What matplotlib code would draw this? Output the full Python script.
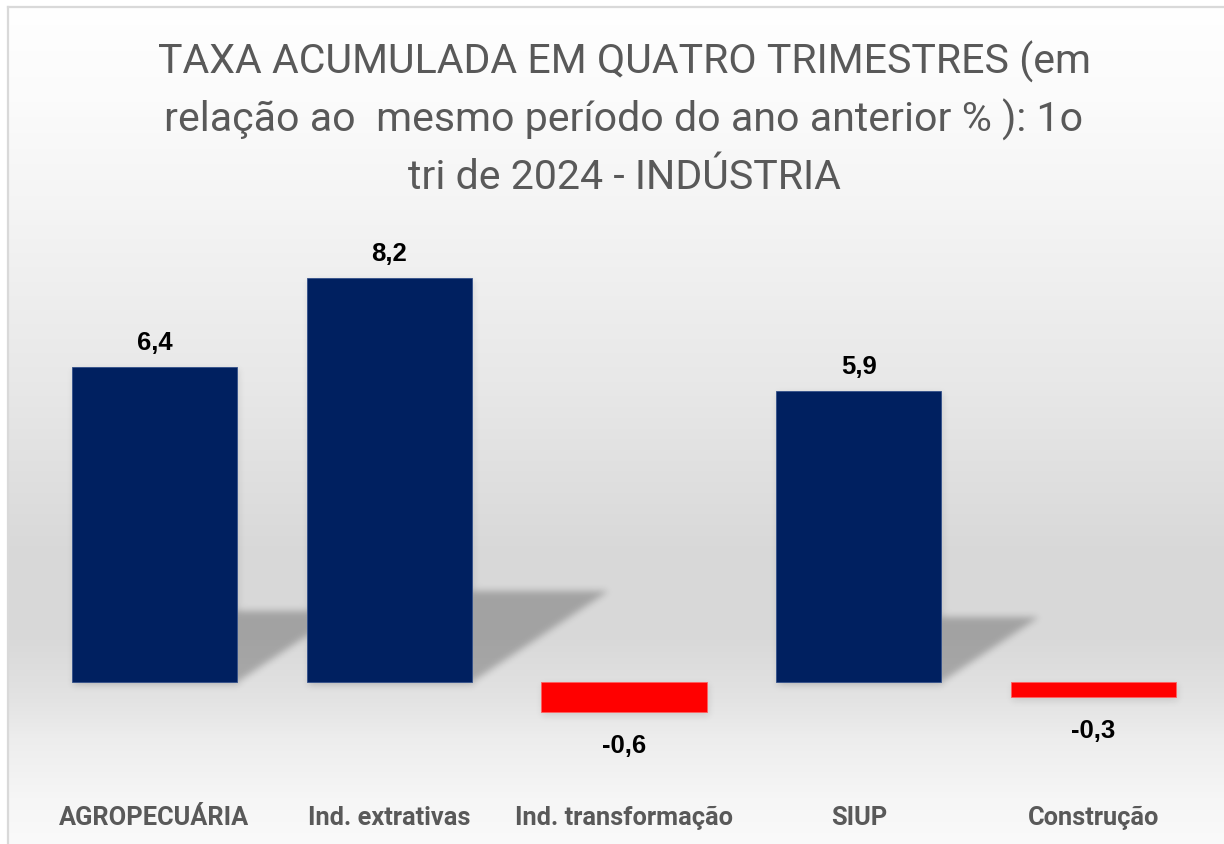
import numpy as np
import matplotlib
matplotlib.use("Agg")
import matplotlib.pyplot as plt
from matplotlib.path import Path
from matplotlib.lines import Line2D


CATEGORIES = ["AGROPECUÁRIA", "Ind. extrativas", "Ind. transformação", "SIUP", "Construção"]
VALUES = [6.4, 8.2, -0.6, 5.9, -0.3]
VALUE_LABELS = ["6,4", "8,2", "-0,6", "5,9", "-0,3"]
TITLE_LINES = [
    "TAXA ACUMULADA EM QUATRO TRIMESTRES (em",
    "relação ao  mesmo período do ano anterior % ): 1o",
    "tri de 2024 - INDÚSTRIA",
]

NAVY = "#002060"
RED = "#FF0000"
GRAY_TEXT = "#595959"
BORDER = "#d9d9d9"

W, H = 1224, 845
DPI = 100


def blur(a: np.ndarray, sigma: float) -> np.ndarray:
    r = int(3 * sigma)
    k = np.exp(-0.5 * (np.arange(-r, r + 1) / sigma) ** 2)
    k /= k.sum()
    a = np.apply_along_axis(lambda m: np.convolve(m, k, mode="same"), 0, a)
    a = np.apply_along_axis(lambda m: np.convolve(m, k, mode="same"), 1, a)
    return a


def draw_background(fig) -> None:
    # vertical grey gradient inside the chart frame
    bg = fig.add_axes([8 / W, 0, 1 - 8 / W, 1 - 8 / H], zorder=-10)
    rows = np.arange(8, H) + 0.5
    stop_px = [0, 100, 200, 400, 550, 640, 700, 740, 800, 845]
    stop_val = [1.0, 0.985, 0.96, 0.905, 0.85, 0.85, 0.89, 0.93, 0.965, 0.98]
    shade = np.interp(rows, stop_px, stop_val)
    img = np.repeat(shade[:, None, None], 3, axis=2)
    bg.imshow(img, aspect="auto", extent=(0, 1, 0, 1), interpolation="bilinear")
    bg.axis("off")

    fig.add_artist(Line2D([8 / W, 8 / W], [0, 1 - 8 / H], color=BORDER, lw=1.6))
    fig.add_artist(Line2D([8 / W, 1], [1 - 8 / H, 1 - 8 / H], color=BORDER, lw=1.6))


def draw_shadows(ax, bars) -> None:
    bbox = ax.get_window_extent()
    wpx, hpx = int(round(bbox.width)), int(round(bbox.height))
    gx, gy = np.meshgrid(np.arange(wpx) + 0.5 + bbox.x0,
                         np.arange(hpx)[::-1] + 0.5 + bbox.y0)
    pts = np.column_stack([gx.ravel(), gy.ravel()])
    alpha = np.zeros(wpx * hpx)

    for bar, value in zip(bars, VALUES):
        (bx0, by0), (bx1, by1) = ax.transData.transform(
            [[bar.get_x(), 0], [bar.get_x() + bar.get_width(), value]])
        if value > 0:
            hh = (by1 - by0) * 0.225
            dx = hh * 1.5
            poly = Path([(bx0, by0), (bx1, by0), (bx1 + dx, by0 + hh),
                         (bx0 + dx, by0 + hh), (bx0, by0)])
            alpha = np.maximum(alpha, poly.contains_points(pts) * 0.25)
        lo, hi = min(by0, by1), max(by0, by1)
        drop = Path([(bx0 + 1, lo - 4), (bx1 + 2, lo - 4), (bx1 + 2, hi - 2),
                     (bx0 + 1, hi - 2), (bx0 + 1, lo - 4)])
        alpha = np.maximum(alpha, drop.contains_points(pts) * 0.10)

    alpha = blur(alpha.reshape(hpx, wpx), 3.5)
    rgba = np.zeros((hpx, wpx, 4))
    rgba[..., 3] = alpha
    ax.imshow(rgba, extent=(*ax.get_xlim(), *ax.get_ylim()), aspect="auto",
              zorder=1, interpolation="bilinear")


def main() -> None:
    fig = plt.figure(figsize=(W / DPI, H / DPI), dpi=DPI, facecolor="white")
    draw_background(fig)

    ax = fig.add_axes([37 / W, (H - 770) / H, (1211 - 37) / W, (770 - 240) / H])
    ax.patch.set_visible(False)
    x = np.arange(len(CATEGORIES))
    ax.set_xlim(-0.5, len(CATEGORIES) - 0.5)
    ax.set_ylim(-1.76, 8.99)

    colors = [NAVY if v > 0 else RED for v in VALUES]
    edges = ["#33508a" if v > 0 else "#ff6060" for v in VALUES]
    bars = ax.bar(x, VALUES, width=0.703, color=colors, edgecolor=edges,
                  linewidth=0.6, zorder=3)

    draw_shadows(ax, bars)

    for xi, value, label in zip(x, VALUES, VALUE_LABELS):
        ax.annotate(label, (xi, value), xytext=(0, 13 if value > 0 else -29),
                    textcoords="offset points", ha="center", va="baseline",
                    fontfamily="Liberation Sans", fontweight="bold",
                    fontsize=18.5, color="black", zorder=5)

    for xi, cat in zip(x, CATEGORIES):
        ax.text(xi, -55 / 530, cat, transform=ax.get_xaxis_transform(),
                ha="center", va="baseline", fontfamily="Roboto",
                fontweight="bold", fontsize=18.3, color=GRAY_TEXT)

    ax.set_xticks([])
    ax.set_yticks([])
    for spine in ax.spines.values():
        spine.set_visible(False)

    for baseline, line in zip([74, 132, 189], TITLE_LINES):
        fig.text(624 / W, 1 - baseline / H, line, ha="center", va="baseline",
                 fontfamily="Roboto", fontsize=29.6, color=GRAY_TEXT)

    fig.savefig("out.png", dpi=DPI)
    plt.close(fig)


if __name__ == "__main__":
    main()
